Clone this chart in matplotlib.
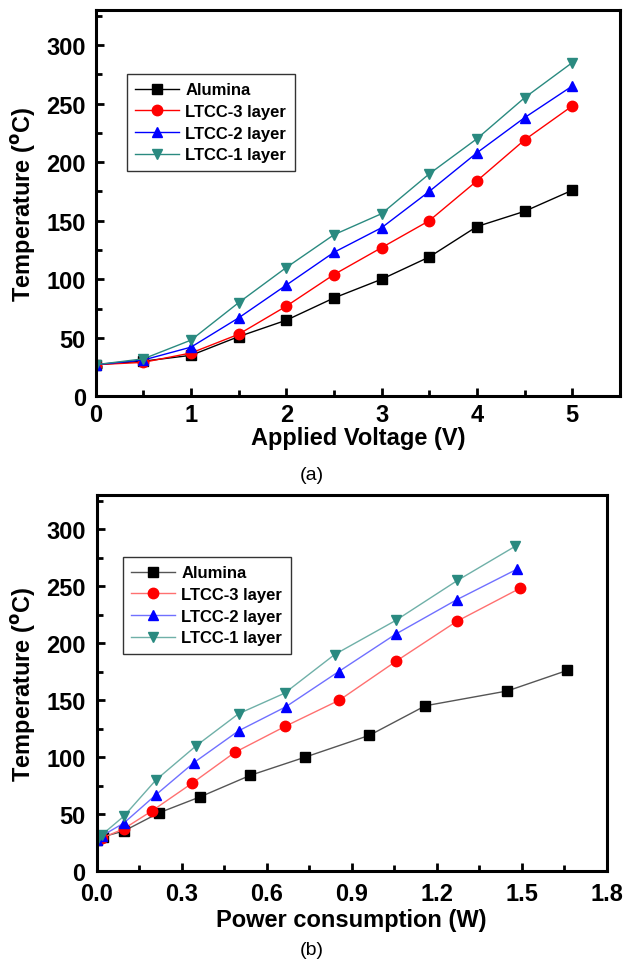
import matplotlib
matplotlib.use("Agg")
import matplotlib.pyplot as plt
from matplotlib.ticker import MultipleLocator, FormatStrFormatter

plt.rcParams['font.family'] = ['Liberation Sans', 'DejaVu Sans']

voltage = [0, 0.5, 1, 1.5, 2, 2.5, 3, 3.5, 4, 4.5, 5]
labels = ["Alumina", "LTCC-3 layer", "LTCC-2 layer", "LTCC-1 layer"]
temp_alumina = [27, 30, 35, 51, 65, 84, 100, 119, 145, 158, 176]
temp_ltcc3 = [27, 29, 37, 53, 77, 104, 127, 150, 184, 219, 248]
temp_ltcc2 = [27, 31, 42, 67, 95, 123, 144, 175, 208, 238, 265]
temp_ltcc1 = [27, 32, 48, 80, 110, 138, 156, 190, 220, 255, 285]

power_alumina = [0.0, 0.022, 0.096, 0.22, 0.365, 0.543, 0.737, 0.962, 1.16, 1.449, 1.66]
power_ltcc3 = [0.0, 0.02, 0.096, 0.197, 0.337, 0.487, 0.666, 0.857, 1.056, 1.27, 1.493]
power_ltcc2 = [0.0, 0.02, 0.096, 0.21, 0.343, 0.501, 0.667, 0.854, 1.056, 1.27, 1.484]
power_ltcc1 = [0.0, 0.02, 0.096, 0.21, 0.352, 0.501, 0.663, 0.84, 1.056, 1.273, 1.477]

temps = [temp_alumina, temp_ltcc3, temp_ltcc2, temp_ltcc1]
powers = [power_alumina, power_ltcc3, power_ltcc2, power_ltcc1]
colors = ["#000000", "#ff0000", "#0000ff", "#2a8a80"]
light_colors = ["#555555", "#ff7070", "#7070ff", "#6fb0a8"]
markers = ["s", "o", "^", "v"]

fig = plt.figure(figsize=(6.23, 9.62), dpi=100)
ax1 = fig.add_axes([0.1536, 0.587, 0.8414, 0.4016])
ax2 = fig.add_axes([0.155, 0.0936, 0.819, 0.3908])

FS = 17

def style(ax, xpad, ypad):
    for s in ax.spines.values():
        s.set_linewidth(2.2)
    ax.tick_params(which='both', direction='in', width=2, top=False, right=False,
                   labelsize=FS)
    ax.tick_params(axis='y', which='major', pad=ypad)
    ax.tick_params(axis='x', which='major', pad=xpad)
    ax.tick_params(which='major', length=6)
    ax.tick_params(which='minor', length=4)
    for lab in ax.get_xticklabels() + ax.get_yticklabels():
        lab.set_fontweight('bold')
    ax.set_ylabel("Temperature ($\\mathbf{^{o}}$C)", fontsize=FS, fontweight='bold', labelpad=6)

def add_legend(ax, x, y):
    leg = ax.legend(loc='upper left', bbox_to_anchor=(x, y), borderaxespad=0,
                    prop={'weight': 'bold', 'size': 12}, frameon=True, fancybox=False,
                    edgecolor='#333333', labelspacing=0.4, handlelength=2.6,
                    handletextpad=0.4, borderpad=0.5, framealpha=1)
    leg.get_frame().set_linewidth(1.0)

for t, c, m, l in zip(temps, colors, markers, labels):
    ax1.plot(voltage, t, color=c, marker=m, markersize=7.5, linewidth=1.0,
             markerfacecolor=c, markeredgecolor=c, label=l)
ax1.set_xlim(0, 5.5)
ax1.set_ylim(0, 330)
ax1.xaxis.set_major_locator(MultipleLocator(1))
ax1.xaxis.set_minor_locator(MultipleLocator(0.5))
ax1.yaxis.set_major_locator(MultipleLocator(50))
ax1.yaxis.set_minor_locator(MultipleLocator(25))
ax1.set_xlabel("Applied Voltage (V)", fontsize=FS, fontweight='bold', labelpad=0)
style(ax1, 5, 7)
add_legend(ax1, 0.06, 0.834)

for p, t, c, lc, m, l in zip(powers, temps, colors, light_colors, markers, labels):
    ax2.plot(p, t, color=lc, marker=m, markersize=7.5, linewidth=1.0,
             markerfacecolor=c, markeredgecolor=c, label=l)
ax2.set_xlim(0, 1.8)
ax2.set_ylim(0, 330)
ax2.xaxis.set_major_locator(MultipleLocator(0.3))
ax2.xaxis.set_minor_locator(MultipleLocator(0.15))
ax2.yaxis.set_major_locator(MultipleLocator(50))
ax2.yaxis.set_minor_locator(MultipleLocator(25))
ax2.xaxis.set_major_formatter(FormatStrFormatter('%.1f'))
ax2.set_xlabel("Power consumption (W)", fontsize=FS, fontweight='bold', labelpad=2)
style(ax2, 8, 8)
add_legend(ax2, 0.052, 0.835)

fig.text(0.5, 1 - 476 / 962, "(a)", ha='center', va='center', fontsize=14)
fig.text(0.5, 1 - 951 / 962, "(b)", ha='center', va='center', fontsize=14)

fig.savefig("out.png", dpi=100)
